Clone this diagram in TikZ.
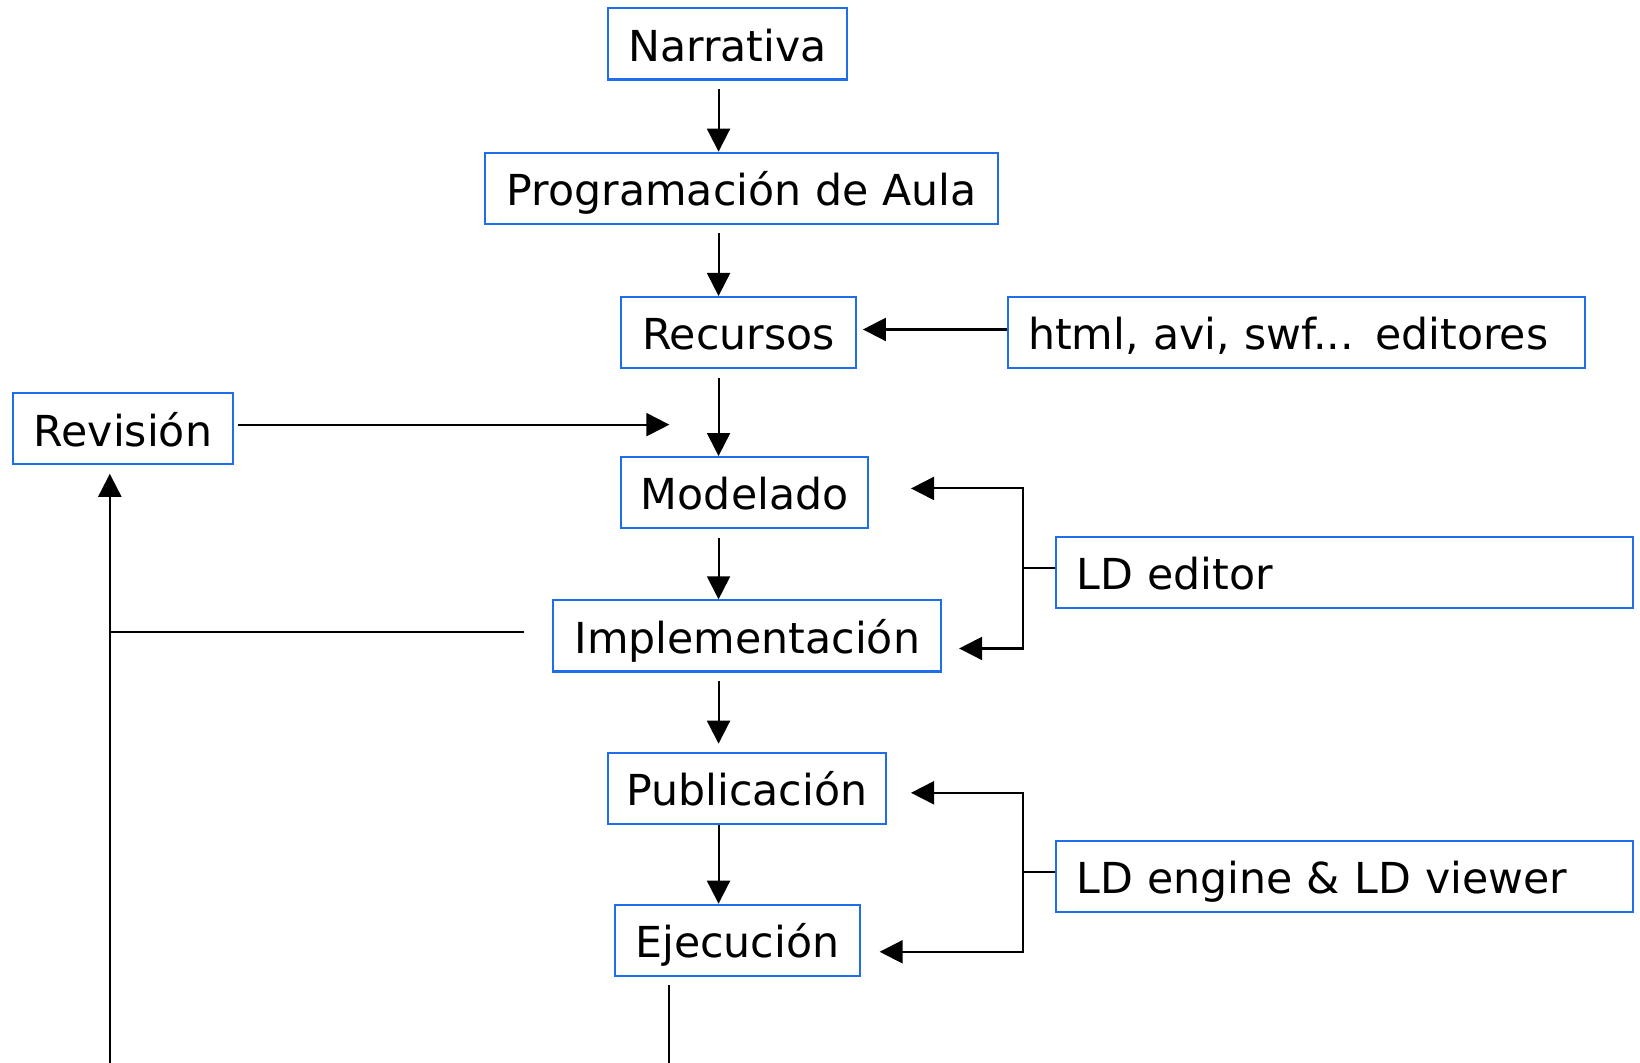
\documentclass[tikz,border=0pt]{standalone}
\usepackage{fontspec}
\setmainfont{DejaVu Sans}
\usetikzlibrary{arrows.meta,positioning,calc}
\definecolor{boxblue}{RGB}{30,110,235}

\begin{document}
\begin{tikzpicture}[x=0.5pt, y=-0.5pt,
        box/.style={rectangle, draw=boxblue, line width=1pt, minimum height=34pt, inner sep=0pt, text height=20.6pt, text depth=4pt, font=\fontsize{20.4}{24}\selectfont},
        toolbox/.style={box, anchor=west, align=left, text width=256.5pt, inner xsep=9.5pt},
        arr/.style={-{Triangle[length=11pt,width=11pt]}, line width=1pt},
        link/.style={line width=1pt}]
        \useasboundingbox (0,0) rectangle (1568,1016);

        \node[box, minimum width=114.5pt] (narrativa) at (695.5, 42) {Narrativa};
        \node[box, minimum width=245pt] (programacion) at (709, 180) {Programación de Aula};
        \node[box, minimum width=112pt] (recursos) at (706, 318) {Recursos};
        \node[toolbox] (editores) at (963, 318) {html, avi, swf... editores};
        \node[box, minimum width=105.5pt] (revision) at (117.5, 410) {Revisión};
        \node[box, minimum width=118pt] (modelado) at (712, 471) {Modelado};
        \node[toolbox] (ld_editor) at (1009, 547) {LD editor};
        \node[box, minimum width=185.5pt] (implementacion) at (714.5, 608) {Implementación};
        \node[box, minimum width=133pt] (publicacion) at (714, 754) {Publicación};
        \node[box, minimum width=117pt] (ejecucion) at (705, 899) {Ejecución};
        \node[toolbox] (ld_engine) at (1009, 838) {LD engine \& LD viewer};

        \coordinate (spine) at (687, 0);
        \coordinate (bus) at (978, 0);
        \coordinate (merge) at (640, 406);
        \coordinate (loop_bottom) at (105, 1016);
        \coordinate (exec_bottom) at (640, 1016);

        % main flow
        \draw[arr, shorten <=4pt] (narrativa.south -| spine) -- (programacion.north -| spine);
        \draw[arr, shorten <=4pt] (programacion.south -| spine) -- (recursos.north -| spine);
        \draw[arr, shorten <=4pt] (recursos.south -| spine) -- (modelado.north -| spine);
        \draw[arr, shorten <=4pt] (modelado.south -| spine) -- (implementacion.north -| spine);
        \draw[arr, shorten <=4pt, shorten >=4pt] (implementacion.south -| spine) -- (publicacion.north -| spine);
        \draw[arr] (publicacion.south -| spine) -- (ejecucion.north -| spine);

        \draw[arr, shorten >=3pt] ([yshift=1.5pt]editores.west) -- ([yshift=1.5pt]recursos.east);
        \draw[arr, shorten <=2pt] (revision.east |- merge) -- (merge);

        \draw[arr] ([yshift=2pt]ld_editor.west) -| ([yshift=2pt]modelado.east -| bus) -- ([xshift=20pt, yshift=2pt]modelado.east);
        \draw[arr] ([yshift=2pt]ld_editor.west) -| ([yshift=-6pt]implementacion.east -| bus) -- ([xshift=8pt, yshift=-6pt]implementacion.east);
        \draw[arr] ([yshift=2pt]ld_engine.west) -| ([yshift=-2pt]publicacion.east -| bus) -- ([xshift=11.5pt, yshift=-2pt]publicacion.east);
        \draw[arr] ([yshift=2pt]ld_engine.west) -| ([yshift=-5.5pt]ejecucion.east -| bus) -- ([xshift=9pt, yshift=-5.5pt]ejecucion.east);

        % feedback to revision
        \draw[arr, shorten >=4pt] (loop_bottom) -- (loop_bottom |- revision.south);
        \draw[link] ([xshift=-13.5pt, yshift=2pt]implementacion.west) -- ([yshift=2pt]implementacion.west -| loop_bottom);
        \draw[link, shorten <=4pt] (ejecucion.south -| exec_bottom) -- (exec_bottom);
    \end{tikzpicture}
\end{document}
